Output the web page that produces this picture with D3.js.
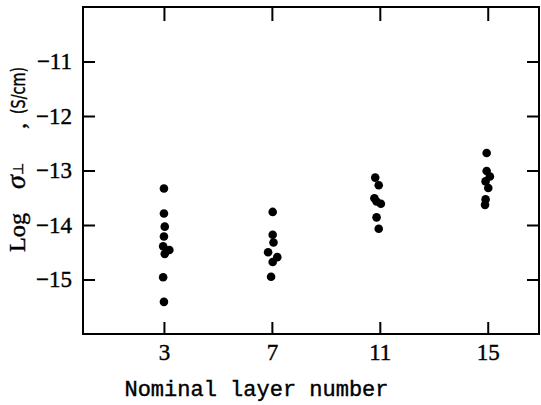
<!DOCTYPE html>
<html><head><meta charset="utf-8">
<script src="https://cdn.jsdelivr.net/npm/d3@7"></script>
<style>html,body{margin:0;padding:0;background:#fff;} svg{display:block;}</style>
</head><body>
<svg id="chart" width="541" height="405"></svg>
<script>
// ---- data ----
const layers = [3, 7, 11, 15];
const xTickLabels = ["3", "7", "11", "15"];
const yTicks = [-11, -12, -13, -14, -15];
const yTickLabels = ["\u221211", "\u221212", "\u221213", "\u221214", "\u221215"];
// each layer: plotted x (small horizontal scatter seen in the picture) and log conductivity
const layer3X   = [3, 3, 3.03, 3, 2.97, 3.2, 3.03, 2.97, 3];
const layer3Log = [-13.33, -13.79, -14.03, -14.21, -14.39, -14.46, -14.53, -14.96, -15.41];
const layer7X   = [7.03, 7.03, 7.06, 6.86, 7.2, 7.03, 6.97];
const layer7Log = [-13.76, -14.18, -14.32, -14.50, -14.59, -14.68, -14.95];
const layer11X   = [10.83, 10.96, 10.8, 10.88, 11.04, 10.88, 10.96];
const layer11Log = [-13.13, -13.27, -13.51, -13.57, -13.61, -13.86, -14.07];
const layer15X   = [14.96, 14.96, 15.08, 14.92, 15.02, 14.92, 14.9];
const layer15Log = [-12.68, -13.01, -13.11, -13.20, -13.32, -13.53, -13.63];

const xLabel = "Nominal layer number";

const points = [];
[[layer3X, layer3Log], [layer7X, layer7Log], [layer11X, layer11Log], [layer15X, layer15Log]]
  .forEach(([xs, ys]) => xs.forEach((x, i) => points.push({x: x, y: ys[i]})));

// ---- layout ----
const L = 83, R = 539, T = 7, B = 334;
const svg = d3.select("#chart");
const x = d3.scaleLinear().domain([0, 16.9]).range([L, R]);
const y = d3.scaleLinear().domain([-16, -10]).range([B, T]);

const serif = "'Liberation Serif', 'Times New Roman', serif";
const mono = "'Liberation Mono', 'Courier New', monospace";

// frame
svg.append("rect").attr("x", L).attr("y", T).attr("width", R - L).attr("height", B - T)
  .attr("fill", "none").attr("stroke", "#000").attr("stroke-width", 2);

function styleAxis(g) {
  g.select(".domain").remove();
  g.selectAll(".tick line").attr("stroke", "#000").attr("stroke-width", 2);
  g.selectAll(".tick text").attr("fill", "#000").attr("font-family", serif).attr("font-size", 23)
    .attr("stroke", "#000").attr("stroke-width", 0.4);
}

svg.append("g").attr("transform", `translate(0,${B})`)
  .call(d3.axisBottom(x).tickValues(layers).tickSizeInner(-12).tickSizeOuter(0).tickPadding(10)
    .tickFormat((d, i) => xTickLabels[i]))
  .call(styleAxis);
svg.append("g").attr("transform", `translate(0,${T})`)
  .call(d3.axisTop(x).tickValues(layers).tickSizeInner(-14).tickSizeOuter(0).tickFormat(""))
  .call(styleAxis);
svg.append("g").attr("transform", `translate(${L},0)`)
  .call(d3.axisLeft(y).tickValues(yTicks).tickSizeInner(-12).tickSizeOuter(0).tickPadding(11)
    .tickFormat((d, i) => yTickLabels[i]))
  .call(styleAxis);
svg.append("g").attr("transform", `translate(${R},0)`)
  .call(d3.axisRight(y).tickValues(yTicks).tickSizeInner(-12).tickSizeOuter(0).tickFormat(""))
  .call(styleAxis);

// points
svg.append("g").selectAll("circle").data(points).join("circle")
  .attr("cx", d => x(d.x)).attr("cy", d => y(d.y)).attr("r", 4.3).attr("fill", "#000");

// x title
svg.append("text").attr("x", 256.5).attr("y", 396).attr("text-anchor", "middle")
  .attr("font-family", mono).attr("font-size", 22).attr("fill", "#000")
  .attr("stroke", "#000").attr("stroke-width", 0.4).text(xLabel);

// y title (rotated)
const yl = svg.append("g").attr("transform", "translate(25,0) rotate(-90)")
  .attr("fill", "#000").attr("stroke", "#000").attr("stroke-width", 0.4);
yl.append("text").attr("x", -252).attr("y", 0).attr("font-family", serif).attr("font-size", 24)
  .attr("textLength", 39).attr("lengthAdjust", "spacingAndGlyphs").text("Log");
const sig = yl.append("text").attr("x", -189).attr("y", 0).attr("font-family", serif)
  .attr("font-size", 28);
sig.append("tspan").attr("font-style", "italic").text("\u03c3");
sig.append("tspan").attr("font-size", 14).attr("dy", -2).text("\u22a5");
yl.append("text").attr("x", -129).attr("y", 0).attr("font-family", serif).attr("font-size", 24)
  .text(",");
yl.append("text").attr("x", -114).attr("y", 0).attr("font-family", "'DejaVu Sans', sans-serif")
  .attr("font-size", 20).attr("textLength", 47).attr("lengthAdjust", "spacingAndGlyphs")
  .text("(S/cm)");
</script>
</body></html>
